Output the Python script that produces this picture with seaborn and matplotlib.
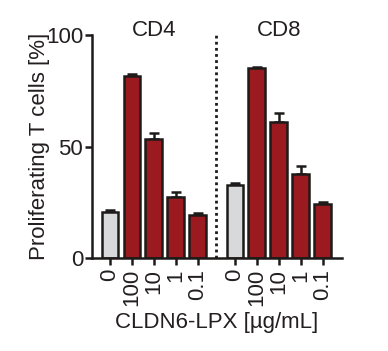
import numpy as np
import pandas as pd
import matplotlib
matplotlib.use("Agg")
import matplotlib.pyplot as plt
import seaborn as sns

groups = ["CD4", "CD8"]
doses = ["0", "100", "10", "1", "0.1"]
cd4_mean = [20.7, 81.6, 53.2, 27.4, 19.5]
cd4_sem = [1.0, 0.9, 2.7, 2.4, 0.7]
cd8_mean = [32.6, 85.3, 61.1, 37.6, 24.1]
cd8_sem = [1.1, 0.6, 4.0, 3.7, 1.0]
yticks = [0, 50, 100]

sns.set_theme(style="ticks")
plt.rcParams["font.family"] = ["Liberation Sans", "DejaVu Sans"]

group_gap = 5.7
rows = []
for gi, (g, means, sems) in enumerate([("CD4", cd4_mean, cd4_sem), ("CD8", cd8_mean, cd8_sem)]):
    for di, d in enumerate(doses):
        rows.append(dict(pos=di + gi * group_gap, value=means[di], sem=sems[di],
                         group=g, dose=d, kind="ctrl" if d == "0" else "lpx"))
df = pd.DataFrame(rows)

fig = plt.figure(figsize=(3.88, 3.51), dpi=100)
ax = fig.add_axes([0.236, 0.265, 0.645, 0.635])

edge = "#1e1a1a"
txt = "#231f20"
fs = 16
ax.errorbar(df["pos"], df["value"], yerr=[np.zeros(len(df)), df["sem"]],
            fmt="none", ecolor=edge, elinewidth=1.8, capsize=3.5, capthick=1.8, zorder=1)
sns.barplot(data=df, x="pos", y="value", hue="kind",
            palette={"ctrl": "#d8d9da", "lpx": "#9a1a1f"}, saturation=1,
            native_scale=True, dodge=False, width=0.76, errorbar=None,
            edgecolor=edge, linewidth=1.8, legend=False, ax=ax, zorder=2)

ax.set_ylim(0, 100)
ax.set_xlim(-0.84, 9.7 + 0.88)
ax.set_yticks(yticks)
ax.set_yticklabels([str(t) for t in yticks])
ax.set_xticks(df["pos"])
ax.set_xticklabels(df["dose"], rotation=90)

sep = (4 + group_gap) / 2
ax.axvline(sep, color=edge, linestyle=(0, (1, 1.2)), linewidth=2)

for gi, g in enumerate(groups):
    ax.text(2 + gi * group_gap, 97.5, g, ha="center", va="bottom", fontsize=fs,
            color=txt, transform=ax.transData, clip_on=False)

ax.set_ylabel("Proliferating T cells [%]", fontsize=fs, color=txt, labelpad=-3)
ax.set_xlabel("CLDN6-LPX [µg/mL]", fontsize=fs, color=txt, labelpad=4)

for s in ["top", "right"]:
    ax.spines[s].set_visible(False)
for s in ["left", "bottom"]:
    ax.spines[s].set_linewidth(1.8)
    ax.spines[s].set_color(edge)
ax.tick_params(axis="both", width=1.8, length=5, color=edge, labelsize=fs, labelcolor=txt)
ax.tick_params(axis="x", pad=3)
ax.tick_params(axis="y", pad=1)

fig.savefig("out.png", dpi=100)
